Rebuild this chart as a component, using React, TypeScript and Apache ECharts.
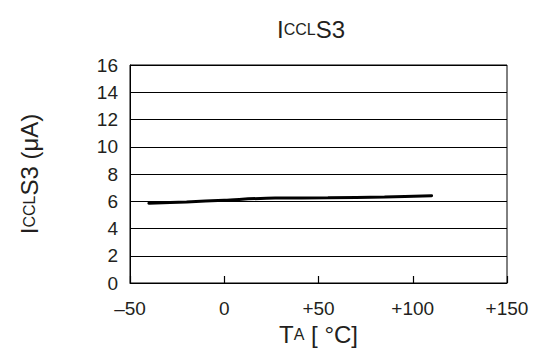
import React, { useEffect, useRef } from "react";
import * as echarts from "echarts";

const temps = [-40, -20, 0, 27, 55, 85, 110];
const current = [5.85, 5.95, 6.08, 6.24, 6.25, 6.32, 6.4];
const xTicks = [-50, 0, 50, 100, 150];
const yMin = 0;
const yMax = 16;
const yStep = 2;

const fmtX = (v: number) => (v < 0 ? "\u2013" + Math.abs(v) : v > 0 ? "+" + v : "0");

export default function App() {
  const ref = useRef<HTMLDivElement>(null);
  useEffect(() => {
    if (!ref.current) return;
    const chart = echarts.init(ref.current, undefined, { renderer: "svg" });
    const font = "'Liberation Sans', Arial, Helvetica, sans-serif";
    const rich = {
      a: { fontSize: 24, color: "#231f20", fontFamily: font, fontWeight: "normal" },
      b: { fontSize: 16, color: "#231f20", fontFamily: font, fontWeight: "normal" },
    };
    chart.setOption({
      animation: false,
      backgroundColor: "#fff",
      title: {
        text: "{a|I}{b|CCL}{a|S3}",
        left: 306,
        top: 12,
        textAlign: "center",
        textStyle: { fontFamily: font, fontWeight: "normal", rich },
      },
      grid: {
        left: 130,
        right: 29,
        top: 65,
        bottom: 69,
        show: true,
        borderColor: "#000",
        borderWidth: 1,
        z: 0,
      },
      xAxis: {
        type: "value",
        min: xTicks[0],
        max: xTicks[xTicks.length - 1],
        interval: 50,
        name: "{a|T}{b|A}{a| [ °C]}",
        nameLocation: "middle",
        nameGap: 38,
        nameTextStyle: { fontFamily: font, fontWeight: "normal", rich },
        z: 5,
        axisLine: { show: true, onZero: false, lineStyle: { color: "#000", width: 1 } },
        axisTick: { show: true, inside: true, length: 7, lineStyle: { color: "#000", width: 1.2 } },
        axisLabel: {
          formatter: fmtX,
          fontSize: 19,
          color: "#231f20",
          fontFamily: font,
          margin: 16,
        },
        splitLine: { show: false },
      },
      yAxis: {
        type: "value",
        min: yMin,
        max: yMax,
        interval: yStep,
        name: "{a|I}{b|CCL}{a|S3 (μA)}",
        nameLocation: "middle",
        nameGap: 89,
        nameRotate: 90,
        nameTextStyle: { fontFamily: font, fontWeight: "normal", rich },
        axisLine: { show: true, onZero: false, lineStyle: { color: "#000", width: 1 } },
        axisTick: { show: false },
        axisLabel: {
          fontSize: 19,
          color: "#231f20",
          fontFamily: font,
          margin: 12,
        },
        splitLine: { show: true, lineStyle: { color: "#000", width: 1 } },
      },
      series: [
        {
          type: "line",
          data: temps.map((t, i) => [t, current[i]]),
          showSymbol: false,
          smooth: 0.3,
          lineStyle: { color: "#000", width: 3, cap: "round" },
        },
      ],
    });
    return () => chart.dispose();
  }, []);
  return <div ref={ref} style={{ width: 536, height: 352, position: "absolute", left: 0, top: 0 }} />;
}
